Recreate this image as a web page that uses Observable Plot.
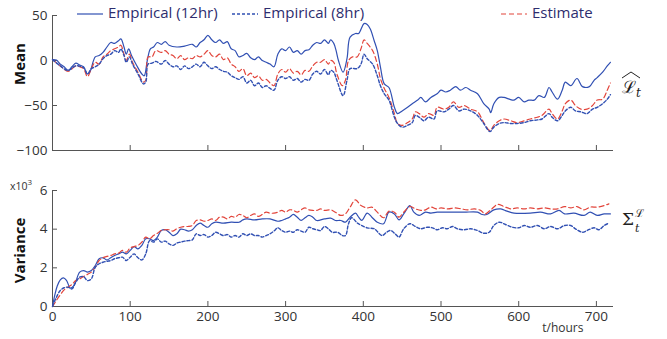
<!DOCTYPE html>
<html><head><meta charset="utf-8">
<script src="https://cdn.jsdelivr.net/npm/d3@7"></script>
<script src="https://cdn.jsdelivr.net/npm/@observablehq/plot@0.6"></script>
<style>
body{margin:0;background:#fff;}
#wrap{position:relative;width:667px;height:339px;overflow:hidden;font-family:"Open Sans",sans-serif;}
.abs{position:absolute;}
.leg{position:absolute;top:1px;font-size:15px;color:#2d2d6e;white-space:nowrap;line-height:22px;}
.leg svg{vertical-align:middle;margin-right:5px;}
</style></head><body><div id="wrap">
<div id="top" class="abs" style="left:0;top:0"></div>
<div id="bot" class="abs" style="left:0;top:170px"></div>
</div>
<script>
// ---- data (t in hours, value) ----
const xTicks = [0, 100, 200, 300, 400, 500, 600, 700];
const meanTicks = [-100, -50, 0, 50];
const varTicks = [0, 2, 4, 6];
const seriesNames = ["Empirical (12hr)", "Empirical (8hr)", "Estimate"];

const mean12 = [[0,1],[5,0.5],[10,-4],[15,-7],[20,-11],[25,-7],[30,-3],[35,-5],[40,-7],[45,-15],[48,-13],[55,4],[60,5.5],[65,9],[70,15],[75,20],[80,19],[85,22],[88,24],[92,15],[95,7],[98,13],[102,5],[108,-5],[115,-15],[118,-17],[122,0],[126,13],[130,15],[135,20],[140,18],[145,21],[150,17],[160,15],[170,16],[180,18],[185,15],[190,20],[195,23],[200,28],[205,23],[210,20],[215,23],[220,19],[225,21],[230,13],[235,11],[240,4],[245,5.5],[250,8],[255,3],[260,1],[265,4],[270,0],[275,-2],[280,-4],[285,-7],[290,7],[295,13],[300,11],[305,15],[310,9],[315,11],[320,7],[325,11],[330,12],[335,17],[340,20],[345,19],[350,23],[355,19],[358,23],[362,19],[365,11],[368,0],[374,-13],[379,2],[383,26],[390,30],[394,30],[401,41],[405,40],[409,35],[414,22],[418,11],[422,-7],[427,-26],[433,-30],[440,-52],[444,-59],[450,-56],[457,-52],[463,-48],[470,-44],[474,-41],[480,-46],[487,-41],[495,-37],[500,-33],[506,-35],[512,-33],[519,-29],[525,-33],[532,-30],[538,-33],[547,-37],[555,-48],[562,-54],[564,-58],[568,-48],[575,-41],[581,-41],[588,-43],[594,-44],[600,-41],[607,-46],[613,-44],[620,-44],[626,-39],[633,-41],[639,-30],[643,-35],[650,-43],[656,-33],[660,-24],[667,-28],[675,-20],[682,-29],[691,-29],[697,-22],[701,-19],[708,-13],[714,-6],[718,-2]];

const mean8 = [[0,1],[10,-6],[20,-11],[30,-6],[40,-8],[45,-15],[50,-9],[55,-7],[60,-4],[65,2],[70,5.5],[75,7],[80,11],[85,9],[88,13],[92,5.5],[95,-2],[99,4],[103,-4],[110,-15],[117,-26],[120,-24],[123,-4],[128,-3],[133,-1],[140,-4],[145,0],[150,-4],[155,-7],[160,-6],[165,-10],[170,-6],[175,-9],[180,-7],[185,-4],[190,-7],[195,-2],[200,-6],[205,-9],[210,-7],[215,-10],[220,-12],[225,-13],[230,-17],[235,-19],[240,-21],[245,-18],[250,-25],[255,-22],[260,-28],[265,-25],[270,-30],[275,-28],[280,-31],[285,-33],[290,-22],[295,-18],[300,-20],[305,-18],[310,-22],[315,-20],[320,-24],[325,-21],[330,-22],[335,-15],[340,-12],[345,-15],[350,-10],[355,-16],[358,-11],[362,-13],[366,-22],[374,-39],[379,-22],[383,-9],[392,-9],[397,-4],[401,7],[405,2],[412,-4],[418,-17],[422,-28],[427,-37],[433,-44],[440,-63],[444,-70],[450,-74],[457,-72],[463,-69],[467,-61],[472,-63],[478,-67],[484,-63],[491,-65],[495,-56],[504,-57],[510,-54],[516,-50],[523,-56],[530,-54],[538,-56],[547,-61],[555,-70],[563,-79],[568,-74],[575,-70],[581,-69],[590,-70],[598,-70],[607,-69],[615,-67],[624,-66],[630,-65],[639,-59],[643,-63],[650,-67],[656,-61],[660,-56],[667,-52],[673,-56],[680,-57],[688,-59],[695,-54],[701,-52],[708,-48],[714,-43],[718,-38]];

const meanEst = [[0,1],[10,-6],[20,-12],[30,-6],[35,-7],[40,-9],[45,-18],[50,-9],[55,-2],[60,-4],[65,4],[70,7],[75,11],[80,13],[85,15],[88,17],[92,7],[95,0],[99,7],[103,-2],[110,-13],[117,-24],[120,-22],[123,4],[128,4],[133,11],[140,9],[145,11],[150,7],[155,5.5],[160,2],[165,5.5],[170,1],[175,3],[180,2],[185,5.5],[190,4],[195,7],[200,11],[205,5.5],[210,4],[215,7],[220,1],[225,3],[230,-4],[235,-7],[240,-12],[245,-9],[250,-17],[255,-14],[260,-19],[265,-17],[270,-22],[275,-21],[280,-25],[285,-28],[290,-15],[295,-10],[300,-13],[305,-9],[310,-14],[315,-12],[320,-16],[325,-11],[330,-12],[335,-6],[340,-2],[345,-2],[350,1],[355,-4],[358,0],[362,-2],[366,-15],[373,-28],[377,-22],[381,0],[386,4],[392,4],[397,13],[401,23],[405,19],[412,11],[418,-4],[422,-20],[427,-31],[433,-41],[440,-59],[444,-70],[450,-72],[457,-69],[463,-65],[467,-57],[472,-59],[478,-63],[484,-59],[491,-61],[495,-52],[504,-54],[510,-52],[516,-46],[523,-52],[530,-50],[538,-54],[547,-57],[555,-69],[563,-78],[568,-72],[575,-67],[581,-65],[590,-67],[598,-69],[607,-67],[615,-65],[624,-63],[630,-61],[639,-54],[643,-59],[650,-65],[656,-56],[660,-48],[667,-44],[673,-50],[680,-54],[688,-54],[695,-50],[701,-44],[708,-43],[714,-33],[718,-25]];

const var12 = [[0,0],[3,0.6],[6,1.05],[10,1.38],[14,1.48],[18,1.35],[23,0.95],[27,1.05],[30,1.3],[35,1.78],[40,1.86],[45,1.78],[50,1.86],[55,2.12],[60,2.47],[65,2.52],[70,2.41],[75,2.52],[80,2.64],[85,2.72],[90,2.81],[95,2.72],[100,2.9],[105,3.1],[110,2.98],[115,3.16],[120,3.5],[125,3.5],[130,3.41],[135,3.59],[140,3.93],[145,3.97],[150,3.84],[155,3.67],[160,3.76],[165,4.0],[170,3.97],[175,3.9],[180,3.97],[185,4.19],[190,4.31],[195,4.19],[200,4.1],[205,4.28],[210,4.36],[220,4.31],[230,4.36],[240,4.36],[245,4.48],[250,4.53],[260,4.48],[270,4.53],[280,4.53],[290,4.41],[295,4.45],[300,4.53],[305,4.62],[310,4.76],[315,4.62],[320,4.45],[325,4.59],[330,4.71],[335,4.62],[340,4.45],[350,4.53],[358,4.57],[364,4.45],[371,4.45],[377,4.36],[383,4.62],[390,4.83],[394,4.62],[398,4.45],[405,4.83],[411,4.62],[418,4.36],[426,4.28],[433,4.88],[440,4.79],[446,4.48],[452,4.79],[460,5.22],[465,4.88],[472,4.71],[480,4.88],[487,4.83],[495,4.88],[512,4.88],[530,4.88],[547,4.88],[553,4.76],[559,4.76],[568,5.0],[577,5.05],[585,4.93],[594,4.83],[615,4.83],[628,4.88],[641,4.79],[652,4.97],[659,4.79],[671,4.83],[684,4.71],[692,4.88],[701,4.71],[710,4.79],[718,4.79]];

const var8 = [[0,0],[5,0.48],[10,0.83],[15,0.97],[20,1.0],[25,0.91],[30,1.26],[35,1.52],[40,1.55],[45,1.34],[50,1.43],[55,2.03],[60,2.21],[65,2.29],[70,2.34],[75,2.38],[80,2.47],[85,2.52],[90,2.55],[95,2.38],[100,2.55],[105,2.72],[110,2.52],[115,2.41],[120,2.72],[125,3.41],[130,3.33],[135,3.5],[140,3.33],[145,3.38],[150,3.24],[155,3.16],[160,3.28],[165,3.33],[170,3.38],[175,3.41],[180,3.45],[185,3.76],[190,3.67],[195,3.72],[200,3.59],[205,3.67],[210,3.84],[215,3.76],[220,3.67],[225,3.72],[230,3.59],[235,3.67],[240,3.59],[245,3.76],[250,3.67],[255,3.76],[260,3.67],[265,3.67],[270,3.59],[275,3.67],[280,3.76],[285,3.9],[290,4.07],[295,3.93],[300,3.84],[305,3.9],[310,3.84],[315,3.97],[320,3.9],[325,3.84],[330,4.1],[335,4.02],[340,3.97],[345,3.93],[350,4.14],[355,4.02],[360,3.84],[367,3.84],[373,3.67],[377,3.67],[381,4.28],[385,4.59],[393,4.3],[405,4.07],[414,4.02],[424,3.67],[430,3.84],[435,3.93],[441,3.76],[446,3.59],[452,4.02],[460,4.28],[467,4.14],[474,4.02],[482,4.1],[489,4.07],[495,3.97],[502,4.07],[508,4.02],[515,4.14],[521,4.02],[530,3.97],[538,4.02],[547,3.93],[555,3.79],[562,3.84],[568,4.19],[575,4.36],[583,4.24],[592,4.1],[600,4.07],[607,4.19],[615,4.1],[624,4.19],[633,4.02],[641,4.14],[650,4.02],[659,4.19],[667,4.19],[673,4.02],[682,3.84],[688,3.93],[697,4.07],[703,3.97],[710,4.19],[716,4.31]];

const varEst = [[0,0],[5,0.31],[10,0.6],[15,0.86],[20,1.0],[25,1.14],[30,1.34],[35,1.43],[40,1.55],[45,1.66],[50,1.78],[55,2.03],[60,2.38],[65,2.52],[70,2.59],[75,2.64],[80,2.72],[85,2.76],[90,2.9],[95,2.81],[100,3.03],[105,3.1],[110,3.16],[115,3.33],[120,3.59],[125,3.5],[130,3.67],[135,3.79],[140,3.93],[145,3.97],[150,3.97],[155,3.9],[160,4.02],[165,4.1],[170,4.14],[175,4.14],[180,4.19],[185,4.45],[190,4.48],[195,4.41],[200,4.45],[205,4.53],[210,4.45],[215,4.62],[220,4.62],[225,4.53],[230,4.66],[235,4.62],[240,4.76],[245,4.71],[250,4.59],[255,4.71],[260,4.79],[265,4.66],[270,4.76],[275,4.88],[280,4.83],[285,4.83],[290,4.88],[295,4.97],[300,4.88],[305,5.0],[310,4.97],[315,4.88],[320,5.0],[325,5.1],[330,5.0],[335,4.97],[340,4.97],[345,5.05],[350,4.97],[358,5.0],[364,4.88],[371,4.71],[377,4.79],[383,5.14],[390,5.52],[397,5.22],[405,5.1],[411,5.14],[418,4.88],[426,4.59],[433,4.93],[440,4.88],[446,4.62],[452,4.88],[460,5.17],[467,5.05],[474,4.97],[480,5.0],[487,5.14],[494,5.05],[500,5.1],[509,5.05],[518,5.1],[526,5.05],[534,5.0],[543,5.05],[551,4.97],[557,4.79],[564,5.0],[573,5.28],[581,5.17],[590,5.05],[598,5.1],[607,5.05],[615,5.1],[624,5.05],[633,5.1],[641,5.05],[650,5.05],[659,5.17],[667,5.1],[675,5.17],[684,5.0],[692,5.14],[701,5.14],[710,5.22],[716,5.31]];

// ---- styles ----
const W = 667, ML = 52, MR = 54;
const BLUE = "#3150b3", RED = "#e2453b", AX = "#555", TXT = "#333";
const styleFor = {
  "Empirical (12hr)": {stroke: BLUE, strokeWidth: 1.2, dash: null},
  "Empirical (8hr)": {stroke: BLUE, strokeWidth: 1.4, dash: "3,2"},
  "Estimate": {stroke: RED, strokeWidth: 1.2, dash: "5,3"}
};
function lineMark(arr, name) {
  const s = styleFor[name];
  return Plot.line(arr, {x: d => d[0], y: d => d[1], stroke: s.stroke, strokeWidth: s.strokeWidth,
    strokeDasharray: s.dash, curve: "catmull-rom"});
}
const baseStyle = {fontFamily: "'Open Sans', sans-serif", fontSize: "13.5px", color: TXT, background: "transparent", overflow: "visible"};

// ---- top: mean ----
{
  const H = 160, MT = 15, MB = 10;
  const innerW = W - ML - MR, innerH = H - MT - MB;
  const p = Plot.plot({
    width: W, height: H, marginTop: MT, marginBottom: MB, marginLeft: ML, marginRight: MR,
    style: baseStyle,
    x: {domain: [0, 722], axis: null},
    y: {domain: [-100, 50], axis: null},
    marks: [
      Plot.tickX(xTicks.slice(1), {x: d => d, insetTop: innerH - 5, stroke: AX}),
      Plot.tickY(meanTicks, {y: d => d, insetRight: innerW - 5, stroke: AX}),
      Plot.axisY(meanTicks, {tickSize: 0, tickPadding: 5, label: null, fill: TXT}),
      Plot.ruleX([0], {stroke: AX}),
      Plot.ruleY([-100], {stroke: AX}),
      lineMark(mean12, seriesNames[0]),
      lineMark(meanEst, seriesNames[2]),
      lineMark(mean8, seriesNames[1]),
      Plot.text(["Mean"], {frameAnchor: "left", textAnchor: "middle", dx: -32, dy: -19, rotate: -90, fontWeight: "bold", fontSize: 15, fill: "#111"})
    ]
  });
  document.getElementById("top").appendChild(p);
}

// ---- bottom: variance ----
{
  const H = 169, MT = 20, MB = 33;
  const innerW = W - ML - MR, innerH = H - MT - MB;
  const p = Plot.plot({
    width: W, height: H, marginTop: MT, marginBottom: MB, marginLeft: ML, marginRight: MR,
    style: baseStyle,
    x: {domain: [0, 722], axis: null},
    y: {domain: [0, 6], axis: null},
    marks: [
      Plot.tickX(xTicks.slice(1), {x: d => d, insetTop: innerH - 5, stroke: AX}),
      Plot.tickY(varTicks, {y: d => d, insetRight: innerW - 5, stroke: AX}),
      Plot.axisY(varTicks, {tickSize: 0, tickPadding: 5, label: null, fill: TXT}),
      Plot.axisX(xTicks, {tickSize: 0, tickPadding: 5, label: null, fill: TXT}),
      Plot.ruleX([0], {stroke: AX}),
      Plot.ruleY([0], {stroke: AX}),
      lineMark(var12, seriesNames[0]),
      lineMark(varEst, seriesNames[2]),
      lineMark(var8, seriesNames[1]),
      Plot.text(["Variance"], {frameAnchor: "left", textAnchor: "middle", dx: -32, dy: 2, rotate: -90, fontWeight: "bold", fontSize: 15, fill: "#111"}),
      Plot.text(["t/hours"], {frameAnchor: "bottom-right", dx: -30, dy: 25, textAnchor: "end", fontSize: 12, fill: TXT})
    ]
  });
  document.getElementById("bot").appendChild(p);
}

// ---- legend ----
const wrap = document.getElementById("wrap");
const legPos = [77, 232, 501];
seriesNames.forEach((name, i) => {
  const s = styleFor[name];
  const d = document.createElement("div");
  d.className = "leg";
  d.style.left = legPos[i] + "px";
  d.innerHTML = `<svg width="26" height="8"><line x1="0" x2="26" y1="4" y2="4" stroke="${s.stroke}" stroke-width="${s.strokeWidth}" ${s.dash ? `stroke-dasharray="${s.dash}"` : ""}/></svg>${name}`;
  wrap.appendChild(d);
});

// ---- extra text ----
function addHTML(html, css) {
  const d = document.createElement("div");
  d.className = "abs";
  d.style.cssText += css;
  d.innerHTML = html;
  wrap.appendChild(d);
}
addHTML('x10<sup style="font-size:8px;vertical-align:5px">3</sup>', "left:10px;top:176px;font-size:10.5px;color:#333;font-family:'Open Sans',sans-serif;");
// hat drawn as a path, not text
addHTML('<svg width="20" height="8"><path d="M1,7 L10,1 L19,7" fill="none" stroke="#222" stroke-width="1"/></svg>',
  "left:621px;top:62px;");
addHTML('ℒ<sub style="font-size:12px;font-style:italic">t</sub>',
  "left:622px;top:77px;font-family:'DejaVu Serif',serif;font-size:17px;color:#222;line-height:20px;");
addHTML('Σ<span style="display:inline-block;vertical-align:top;line-height:11px;font-size:11px;margin-left:1px"><span style="display:block">ℒ</span><span style="display:block;font-style:italic;margin-top:4px">t</span></span>',
  "left:622px;top:208px;font-family:'DejaVu Serif',serif;font-size:17px;color:#222;line-height:22px;");
</script>
</body></html>
